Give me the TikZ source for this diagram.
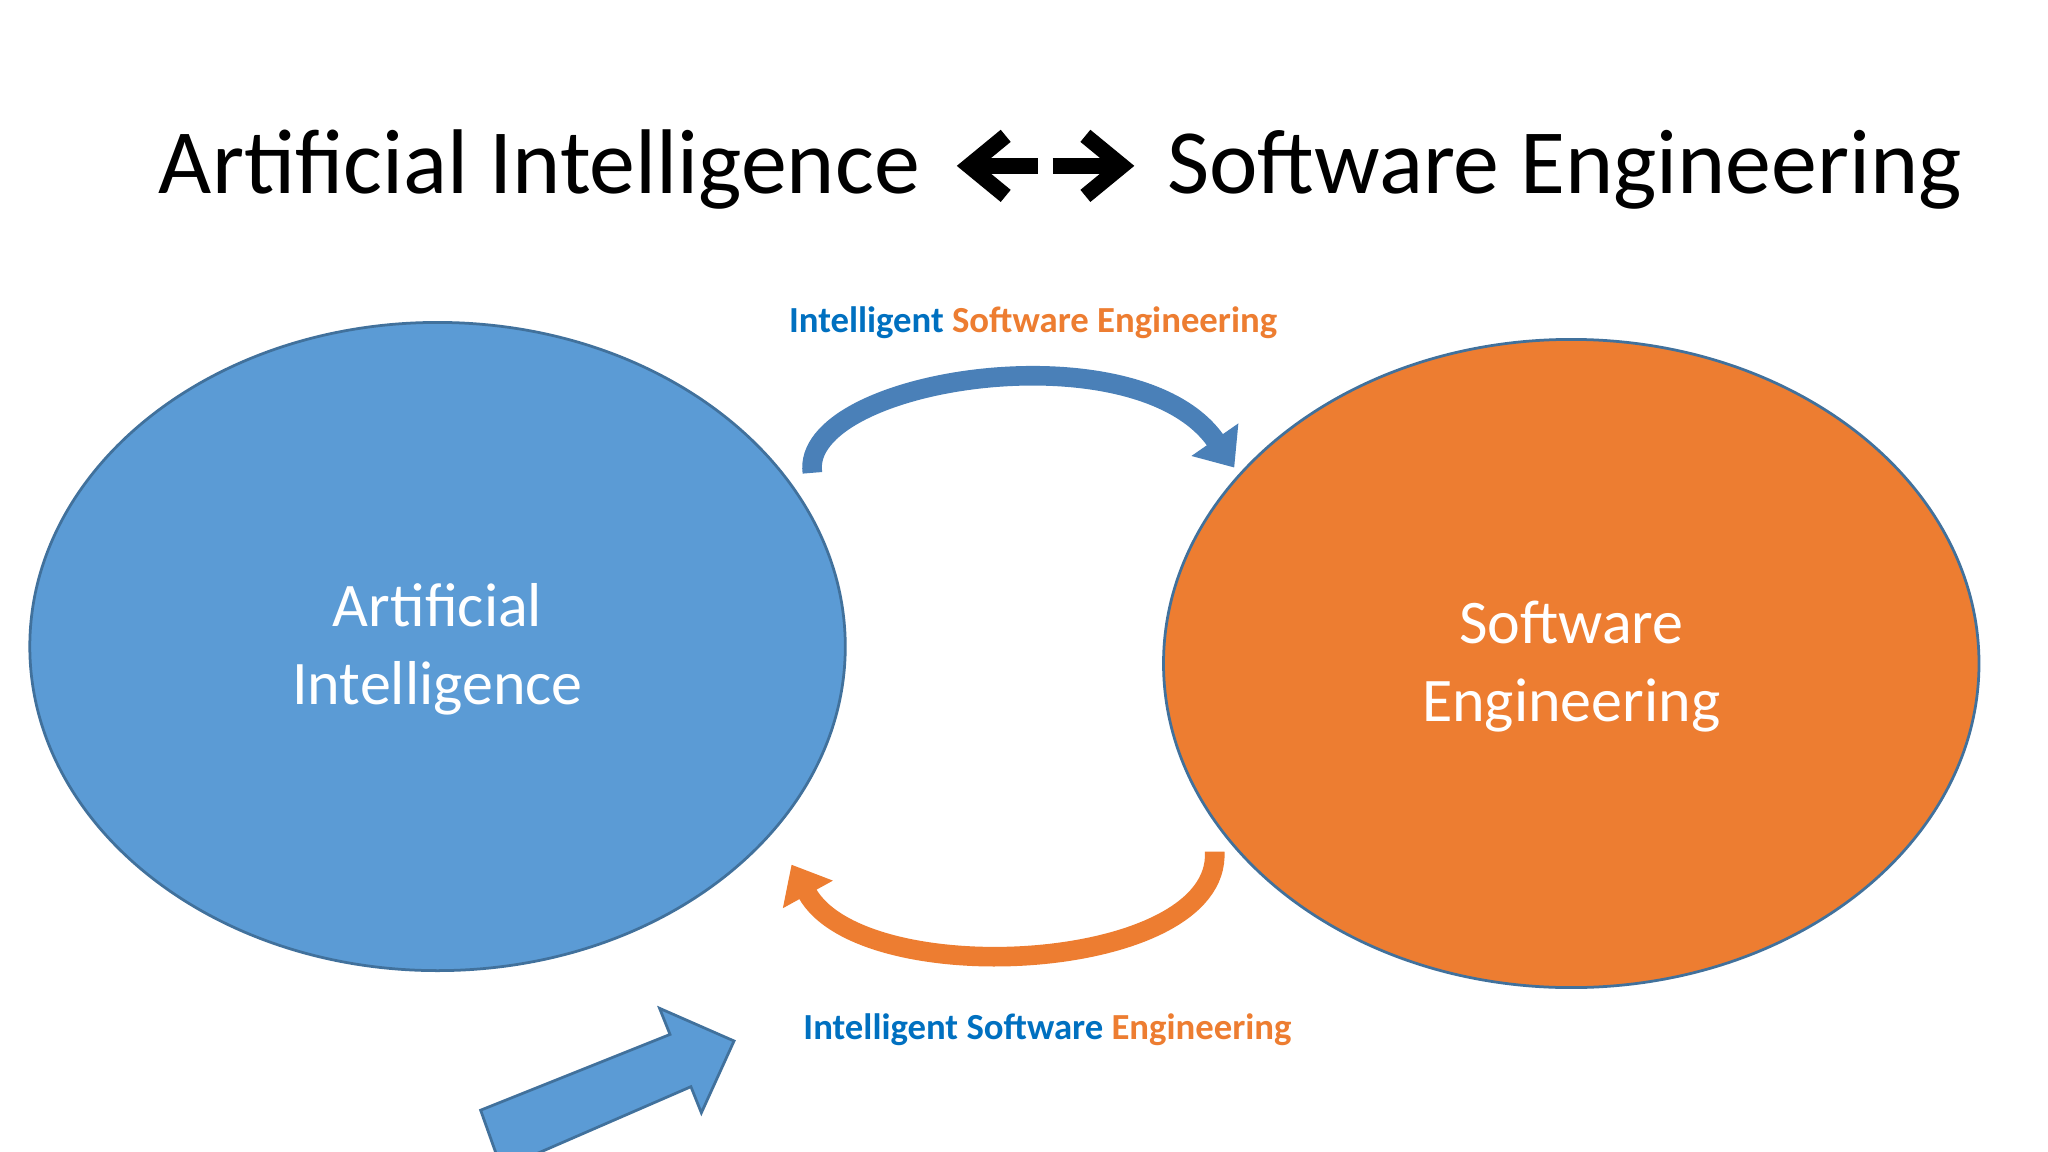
\documentclass[tikz,border=0pt]{standalone}
\usepackage{fontspec}
\setmainfont{Carlito}
\usetikzlibrary{arrows.meta,shapes.geometric}
\definecolor{aiblue}{HTML}{5B9BD5}
\definecolor{seor}{HTML}{ED7D31}
\definecolor{edgeb}{HTML}{41719C}
\definecolor{lblue}{HTML}{0070C0}
\definecolor{darkblue}{HTML}{4A80B8}
\tikzset{
  title/.style={font=\fontsize{20}{24}\selectfont, text=black, inner sep=0},
  circ/.style={ellipse, draw=edgeb, line width=0.6pt, minimum width=6.24cm, minimum height=4.96cm, inner sep=0},
  intext/.style={font=\fontsize{13.5}{17}\selectfont, text=white, align=center},
  lab/.style={font=\fontsize{8}{10}\selectfont\bfseries, inner sep=0},
  chev/.style={line width=0.12cm, miter limit=10},
}
\begin{document}
\begin{tikzpicture}[x=0.01cm,y=-0.01cm]
\useasboundingbox (0,0) rectangle (1568,882);
\fill[white] (0,0) rectangle (1568,882);
\node[title, anchor=east] (tl) at (705,130) {Artificial Intelligence};
\node[title, anchor=west] (tr) at (893,130) {Software Engineering};
% double arrow
\coordinate (la) at (742,127); \coordinate (lb) at (795,127);
\coordinate (ra) at (806,127); \coordinate (rb) at (859,127);
\draw[chev] (la) -- (lb);
\draw[chev] (770,104) -- (742,127) -- (770,150);
\draw[chev] (ra) -- (rb);
\draw[chev] (831,104) -- (859,127) -- (831,150);
% ellipses
\node[circ, fill=aiblue] (aic) at (335,495) {};
\node[circ, fill=seor] (sec) at (1203,508) {};
\node[intext] (ai) at (335,497) {Artificial\\Intelligence};
\node[intext] (se) at (1203,510) {Software\\Engineering};
% labels
\node[lab] (t1) at (791,247) {\textcolor{lblue}{Intelligent} \textcolor{seor}{Software Engineering}};
\node[lab] (t2) at (802,788) {\textcolor{lblue}{Intelligent Software} \textcolor{seor}{Engineering}};
% curved arrows
\coordinate (a1) at (622,362); \coordinate (a2) at (945,358);
\draw[darkblue, line width=0.15cm, -{Triangle[width=0.42cm,length=0.26cm]}]
  (a1) .. controls (612,290) and (870,250) .. (a2);
\coordinate (b1) at (930,652); \coordinate (b2) at (606,662);
\draw[seor, line width=0.15cm, -{Triangle[width=0.42cm,length=0.26cm]}]
  (b1) .. controls (935,745) and (660,760) .. (b2);
% block arrow
\filldraw[fill=aiblue, draw=edgeb, line width=0.6pt]
  (368,850) -- (513,792) -- (505,772) -- (562,797) -- (537,852) -- (529,832) -- (384,895) -- cycle;
\end{tikzpicture}
\end{document}
